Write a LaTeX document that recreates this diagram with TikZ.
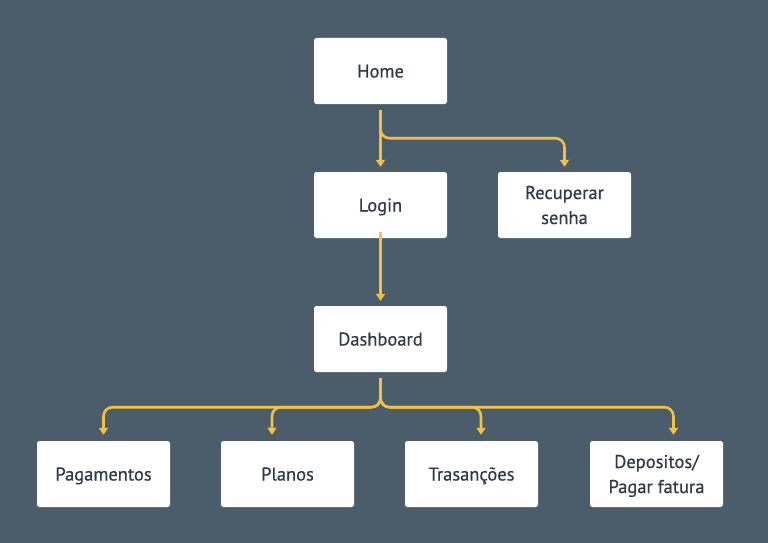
\documentclass[tikz,border=0pt]{standalone}
\usepackage{fontspec}
\setmainfont{PT Sans}
\newfontfamily\boxfont{PT Sans}[FakeBold=0.5]
\usetikzlibrary{arrows.meta}
\definecolor{bg}{HTML}{4B5C6B}
\definecolor{ln}{HTML}{F4C040}
\definecolor{tx}{HTML}{2E3A46}
\begin{document}
\begin{tikzpicture}[x=1pt,y=-1pt,
 box/.style={fill=white,rounded corners=2.5pt,minimum width=133pt,minimum height=66pt,inner sep=0pt,align=center,font=\boxfont\fontsize{18.5}{25}\selectfont,text=tx,text height=13pt,text depth=0pt},
 twoline/.style={text height=38pt,text depth=0pt},
 conn/.style={draw=ln,line width=2.6pt,rounded corners=9pt,-{Triangle[width=9pt,length=7pt]}}]
\fill[bg] (0,0) rectangle (768,543);
\useasboundingbox (0,0) rectangle (768,543);
\node[box] (home) at (380.5,71) {Home};
\node[box] (login) at (380.5,205) {Login};
\node[box,twoline] (rec) at (564.5,205) {Recuperar\\senha};
\node[box] (dash) at (380.5,339) {Dashboard};
\node[box] (pag) at (103.5,474) {Pagamentos};
\node[box] (plan) at (287.5,474) {Planos};
\node[box] (tras) at (471.5,474) {Trasanções};
\node[box,twoline] (dep) at (656.5,474) {Depositos/\\Pagar fatura};
\draw[conn] ([yshift=-6pt]home.south) -- ([yshift=5pt]login.north);
\draw[conn] ([yshift=-6pt]home.south) -- ++(0,28) -| ([yshift=5pt]rec.north);
\draw[conn] ([yshift=6pt]login.south) -- ([yshift=5pt]dash.north);
\draw[conn] ([yshift=-6pt]dash.south) -- ++(0,29) -| ([yshift=6pt]pag.north);
\draw[conn] ([yshift=-6pt]dash.south) -- ++(0,29) -| ([xshift=-15.5pt,yshift=6pt]plan.north);
\draw[conn] ([yshift=-6pt]dash.south) -- ++(0,29) -| ([xshift=9.5pt,yshift=6pt]tras.north);
\draw[conn] ([yshift=-6pt]dash.south) -- ++(0,29) -| ([xshift=17pt,yshift=6pt]dep.north);
\end{tikzpicture}
\end{document}
